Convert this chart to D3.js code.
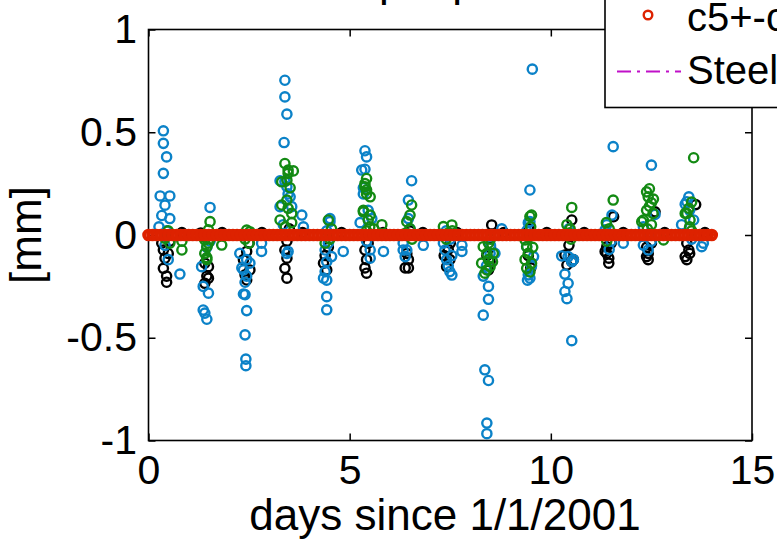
<!DOCTYPE html>
<head>
  <meta charset="utf-8">
  <script src="https://d3js.org/d3.v7.min.js"></script>
  <style>
    body { margin: 0; background: #fff; }
    text { font-family: "Liberation Sans", Arial, sans-serif; fill: #000; }
    .tick line { stroke: #000; stroke-width: 1.5px; }
    .tick text { font-size: 41px; }
  </style>
</head>
<body>
  <div id="my_dataviz"></div>
  <script>
    // tick values and labels
    var xTicks = [0, 5, 10, 15];
    var xTickLabels = ["0", "5", "10", "15"];
    var yTicks = [-1, -0.5, 0, 0.5, 1];
    var yTickLabels = ["-1", "-0.5", "0", "0.5", "1"];
    var legendLabels = ["c5+-c4", "Steel"];

    // [days, mm]
    var black = [
      [0.37,-0.073],[0.41,-0.113],[0.37,-0.162],[0.45,-0.2],[0.45,-0.23],[0.53,-0.03],[0.33,-0.04],[0.49,-0.09],
      [1.49,-0.154],[1.45,-0.2],[1.4,-0.235],[1.4,-0.137],[1.49,-0.21],[1.3,0.01],
      [2.44,-0.219],[2.4,-0.194],[2.52,-0.17],[2.36,-0.12],[2.44,-0.08],[2.5,-0.04],
      [3.39,-0.073],[3.44,-0.113],[3.39,-0.162],[3.44,-0.21],[3.44,-0.03],[3.5,0.03],
      [4.35,-0.137],[4.43,-0.17],[4.39,-0.1],[4.47,-0.06],
      [5.38,-0.073],[5.42,-0.12],[5.38,-0.16],[5.42,-0.186],[5.46,-0.04],
      [6.46,-0.12],[6.38,-0.16],[6.46,-0.16],[6.42,-0.09],[6.5,0.02],
      [7.41,-0.154],[7.49,-0.12],[7.45,-0.07],[7.35,-0.1],[7.5,-0.04],
      [8.49,-0.13],[8.45,-0.17],[8.53,0.049],[8.41,-0.1],[8.5,-0.06],
      [9.44,-0.1],[9.5,-0.16],[9.45,0.03],
      [10.52,0.073],[10.4,-0.146],[10.35,-0.097],[10.52,-0.13],[10.56,-0.12],[10.45,-0.05],
      [11.56,0.089],[11.39,-0.057],[11.39,-0.089],[11.44,-0.113],[11.44,-0.137],[11.35,-0.08],[11.5,-0.04],
      [12.59,0.113],[12.38,-0.105],[12.42,-0.12],[12.42,-0.09],[12.38,-0.06],[12.5,-0.04],
      [13.6,0.148],[13.38,-0.04],[13.43,-0.073],[13.34,-0.105],[13.38,-0.12],[13.45,-0.09],
      [0.83,0.012],[1.83,0.012],[2.82,0.012],[3.83,0.012],[4.8,0.012],[5.83,0.012],[6.82,0.012],
      [7.67,0.012],[8.83,0.012],[9.9,0.012],[10.83,0.012],[11.8,0.012],[12.83,0.012],[13.83,0.012]
    ];
    var blue = [
      [0.37,0.507],[0.37,0.446],[0.45,0.38],[0.37,0.3],[0.29,0.19],[0.53,0.19],[0.41,0.145],[0.33,0.095],
      [0.53,0.08],[0.26,0.04],[0.45,0.02],[0.49,-0.12],[0.78,-0.19],[0.41,-0.05],
      [1.53,0.134],[1.32,-0.154],[1.36,-0.25],[1.49,-0.283],[1.36,-0.365],[1.4,-0.38],[1.45,-0.41],[1.45,-0.06],[1.53,-0.03],
      [2.4,-0.29],[2.44,-0.368],[2.4,-0.486],[2.42,-0.604],[2.42,-0.636],[2.27,-0.089],[2.44,-0.12],[2.32,-0.16],
      [2.36,-0.287],[2.52,-0.137],[2.36,-0.17],[2.81,-0.04],[2.81,-0.08],[2.44,-0.2],[2.4,-0.23],
      [3.39,0.753],[3.39,0.672],[3.44,0.588],[3.37,0.45],[3.27,0.264],[3.44,0.235],[3.52,0.186],[3.56,0.138],
      [3.81,0.097],[3.85,0.04],[3.39,0.26],[3.47,0.2],[3.27,0.138],[3.47,-0.08],[3.44,-0.09],[3.35,0.05],
      [4.51,0.065],[4.43,0.02],[4.39,-0.073],[4.55,-0.105],[4.43,-0.13],[4.39,-0.178],[4.35,-0.21],[4.43,-0.3],
      [4.43,-0.364],[4.43,-0.22],[4.84,-0.08],[4.51,0.08],[4.47,-0.04],
      [5.38,0.41],[5.42,0.38],[5.3,0.316],[5.38,0.32],[5.34,0.23],[5.34,0.2],[5.46,0.12],[5.26,0.06],[5.55,0.08],
      [5.51,-0.073],[5.51,-0.113],[5.84,-0.08],[5.42,-0.03],
      [6.54,0.264],[6.46,0.17],[6.46,0.08],[6.5,0.03],[6.33,-0.04],[6.42,-0.073],[6.38,-0.105],[6.33,-0.073],[6.83,-0.05],
      [7.33,-0.04],[7.37,-0.073],[7.41,-0.12],[7.45,-0.15],[7.49,-0.178],[7.54,-0.195],[7.54,-0.1],[7.79,-0.08],
      [7.79,-0.05],[7.4,0.02],[7.5,-0.02],
      [8.32,-0.2],[8.45,-0.313],[8.32,-0.39],[8.36,-0.656],[8.45,-0.708],[8.41,-0.915],[8.41,-0.967],[8.49,-0.089],
      [8.61,-0.089],[8.78,0.03],[8.4,-0.15],[8.5,-0.05],[8.45,-0.25],
      [9.54,0.807],[9.48,0.219],[9.44,0.06],[9.48,0.065],[9.4,-0.057],[9.57,-0.105],[9.44,-0.194],[9.48,-0.21],
      [9.42,-0.22],[9.52,-0.15],[9.4,0.02],
      [10.48,0],[10.27,-0.102],[10.43,-0.105],[10.52,-0.13],[10.35,-0.19],[10.43,-0.235],[10.35,-0.275],[10.4,-0.31],
      [10.52,-0.514],[10.56,-0.12],[10.45,0.03],
      [11.55,0.43],[11.52,0.097],[11.39,0.05],[11.35,0.025],[11.8,-0.04],[11.5,-0.03],[11.45,-0.07],
      [12.5,0.34],[12.59,0.1],[12.3,0.04],[12.45,0],[12.3,-0.049],[12.42,-0.073],[12.5,-0.03],
      [13.43,0.186],[13.38,0.162],[13.34,0.15],[13.45,0.12],[13.55,0.073],[13.25,0.05],[13.5,-0.02],
      [13.79,-0.04],[13.75,-0.057]
    ];
    var green = [
      [0.49,0.02],[0.41,-0.016],[0.45,0],[0.53,-0.04],[0.83,-0.073],[0.83,-0.03],
      [1.53,0.065],[1.49,0.025],[1.53,-0.02],[1.36,-0.01],[1.4,-0.024],[1.49,-0.04],[1.45,-0.057],[1.4,-0.089],
      [1.45,-0.11],[1.45,-0.12],[1.82,-0.049],
      [2.52,0.016],[2.44,0.024],[2.4,-0.02],[2.5,-0.04],
      [3.39,0.348],[3.47,0.316],[3.6,0.312],[3.47,0.3],[3.31,0.259],[3.44,0.267],[3.52,0.23],[3.44,0.17],
      [3.31,0.146],[3.47,0.13],[3.56,0.105],[3.27,0.073],[3.56,0.06],[3.4,0.04],
      [4.47,0.073],[4.55,0.03],[4.43,0],[4.51,-0.02],[4.39,-0.04],
      [5.42,0.275],[5.38,0.25],[5.38,0.235],[5.42,0.22],[5.42,0.2],[5.51,0.186],[5.34,0.12],[5.34,0.113],
      [5.51,0.097],[5.46,0.073],[5.5,0.04],[5.6,0.03],[5.42,0.02],[5.8,0.05],
      [6.54,0.146],[6.5,0.097],[6.42,0.065],[6.5,0.03],[6.4,0.01],[6.55,-0.02],
      [7.54,0.049],[7.33,0.041],[7.45,0.01],[7.55,0.02],[7.4,-0.02],
      [8.4,0],[8.5,-0.02],[8.45,-0.04],[8.32,-0.057],[8.41,-0.089],[8.57,-0.089],[8.45,-0.12],[8.55,-0.13],
      [8.28,-0.137],[8.49,-0.154],[8.41,-0.17],[8.36,-0.186],
      [9.52,0.097],[9.48,0.09],[9.5,0.04],[9.45,-0.01],[9.36,-0.024],[9.4,-0.057],[9.55,-0.06],[9.44,-0.089],
      [9.36,-0.12],[9.52,-0.137],[9.4,-0.162],[9.48,-0.18],
      [10.52,0.134],[10.4,0.05],[10.48,0.03],[10.45,0.01],[10.5,-0.02],
      [11.55,0.17],[11.38,0.06],[11.45,0.03],[11.5,0],[11.39,-0.03],
      [12.45,0.225],[12.38,0.21],[12.42,0.186],[12.55,0.175],[12.5,0.157],[12.45,0.14],[12.38,0.12],[12.54,0.105],
      [12.3,0.073],[12.26,0.065],[12.5,0.05],[12.4,0.03],[12.8,-0.024],
      [13.55,0.376],[13.5,0.16],[13.43,0.13],[13.34,0.105],[13.38,0.105],[13.46,0.073],[13.45,0.04],[13.5,0.02],[13.4,0]
    ];
    var red = [
      [0,0],[0.1,0],[0.2,0],[0.3,0],[0.4,0],[0.5,0],[0.6,0],[0.7,0],[0.8,0],[0.9,0],
      [1,0],[1.1,0],[1.2,0],[1.3,0],[1.4,0],[1.5,0],[1.6,0],[1.7,0],[1.8,0],[1.9,0],
      [2,0],[2.1,0],[2.2,0],[2.3,0],[2.4,0],[2.5,0],[2.6,0],[2.7,0],[2.8,0],[2.9,0],
      [3,0],[3.1,0],[3.2,0],[3.3,0],[3.4,0],[3.5,0],[3.6,0],[3.7,0],[3.8,0],[3.9,0],
      [4,0],[4.1,0],[4.2,0],[4.3,0],[4.4,0],[4.5,0],[4.6,0],[4.7,0],[4.8,0],[4.9,0],
      [5,0],[5.1,0],[5.2,0],[5.3,0],[5.4,0],[5.5,0],[5.6,0],[5.7,0],[5.8,0],[5.9,0],
      [6,0],[6.1,0],[6.2,0],[6.3,0],[6.4,0],[6.5,0],[6.6,0],[6.7,0],[6.8,0],[6.9,0],
      [7,0],[7.1,0],[7.2,0],[7.3,0],[7.4,0],[7.5,0],[7.6,0],[7.7,0],[7.8,0],[7.9,0],
      [8,0],[8.1,0],[8.2,0],[8.3,0],[8.4,0],[8.5,0],[8.6,0],[8.7,0],[8.8,0],[8.9,0],
      [9,0],[9.1,0],[9.2,0],[9.3,0],[9.4,0],[9.5,0],[9.6,0],[9.7,0],[9.8,0],[9.9,0],
      [10,0],[10.1,0],[10.2,0],[10.3,0],[10.4,0],[10.5,0],[10.6,0],[10.7,0],[10.8,0],[10.9,0],
      [11,0],[11.1,0],[11.2,0],[11.3,0],[11.4,0],[11.5,0],[11.6,0],[11.7,0],[11.8,0],[11.9,0],
      [12,0],[12.1,0],[12.2,0],[12.3,0],[12.4,0],[12.5,0],[12.6,0],[12.7,0],[12.8,0],[12.9,0],
      [13,0],[13.1,0],[13.2,0],[13.3,0],[13.4,0],[13.5,0],[13.6,0],[13.7,0],[13.8,0],[13.9,0],
      [14,0]
    ];

    var width = 777, height = 539;

    var svg = d3.select("#my_dataviz")
      .append("svg")
      .attr("width", width)
      .attr("height", height)
      .style("display", "block");

    var x = d3.scaleLinear().domain([0, 15]).range([148.5, 752]);
    var y = d3.scaleLinear().domain([-1, 1]).range([440.5, 29.5]);

    // title, mostly above the visible area
    svg.append("text")
      .attr("x", 286)
      .attr("y", -4)
      .style("font-size", "44px")
      .text("c5 input perturbation");

    // axes, ticks pointing inward on all four sides
    svg.append("g")
      .attr("transform", `translate(0,${y(-1)})`)
      .call(d3.axisBottom(x).tickValues(xTicks).tickSize(-7).tickSizeOuter(0).tickPadding(14)
        .tickFormat((d, i) => xTickLabels[i]))
      .call(g => g.select(".domain").remove());

    svg.append("g")
      .attr("transform", `translate(0,${y(1)})`)
      .call(d3.axisTop(x).tickValues(xTicks).tickSize(-7).tickSizeOuter(0).tickFormat(""))
      .call(g => g.select(".domain").remove());

    svg.append("g")
      .attr("transform", `translate(${x(0)},0)`)
      .call(d3.axisLeft(y).tickValues(yTicks).tickSize(-7).tickSizeOuter(0).tickPadding(11.5)
        .tickFormat((d, i) => yTickLabels[i]))
      .call(g => g.select(".domain").remove());

    svg.append("g")
      .attr("transform", `translate(${x(15)},0)`)
      .call(d3.axisRight(y).tickValues(yTicks).tickSize(-7).tickSizeOuter(0).tickFormat(""))
      .call(g => g.select(".domain").remove());

    svg.selectAll(".tick text").attr("fill", "#000");

    svg.append("rect")
      .attr("x", x(0))
      .attr("y", y(1))
      .attr("width", x(15) - x(0))
      .attr("height", y(-1) - y(1))
      .attr("fill", "none")
      .attr("stroke", "#000")
      .attr("stroke-width", 1.6);

    // axis labels
    svg.append("text")
      .attr("x", 445)
      .attr("y", 530)
      .attr("text-anchor", "middle")
      .style("font-size", "44px")
      .text("days since 1/1/2001");

    svg.append("text")
      .attr("transform", "translate(41,235) rotate(-90)")
      .attr("text-anchor", "middle")
      .style("font-size", "44px")
      .text("[mm]");

    // scatter series, drawn in plotting order
    var series = [
      {data: black, color: "#000000", r: 4.6, sw: 2.4},
      {data: blue, color: "#0b82c8", r: 4.6, sw: 2.4},
      {data: green, color: "#138a13", r: 4.6, sw: 2.4},
      {data: red, color: "#dd2200", r: 4.3, sw: 4}
    ];

    series.forEach(s => {
      svg.append("g")
        .selectAll("circle")
        .data(s.data)
        .enter()
        .append("circle")
        .attr("cx", d => x(d[0]))
        .attr("cy", d => y(d[1]))
        .attr("r", s.r)
        .attr("fill", "none")
        .attr("stroke", s.color)
        .attr("stroke-width", s.sw);
    });

    // legend (its top is cut off by the frame)
    var legend = svg.append("g");
    legend.append("rect")
      .attr("x", 605)
      .attr("y", -100)
      .attr("width", 300)
      .attr("height", 207.5)
      .attr("fill", "#fff")
      .attr("stroke", "#000")
      .attr("stroke-width", 1.6);

    legend.append("circle")
      .attr("cx", 648)
      .attr("cy", 15)
      .attr("r", 4.3)
      .attr("fill", "none")
      .attr("stroke", "#dd2200")
      .attr("stroke-width", 2.4);

    legend.append("line")
      .attr("x1", 617)
      .attr("x2", 681)
      .attr("y1", 71.5)
      .attr("y2", 71.5)
      .attr("stroke", "#c010c8")
      .attr("stroke-width", 2.2)
      .attr("stroke-dasharray", "14,6,3,6");

    legend.selectAll(".lab")
      .data(legendLabels)
      .enter()
      .append("text")
      .attr("class", "lab")
      .attr("x", 687)
      .attr("y", (d, i) => i ? 84 : 31)
      .style("font-size", "40px")
      .text(d => d);
  </script>
</body>
